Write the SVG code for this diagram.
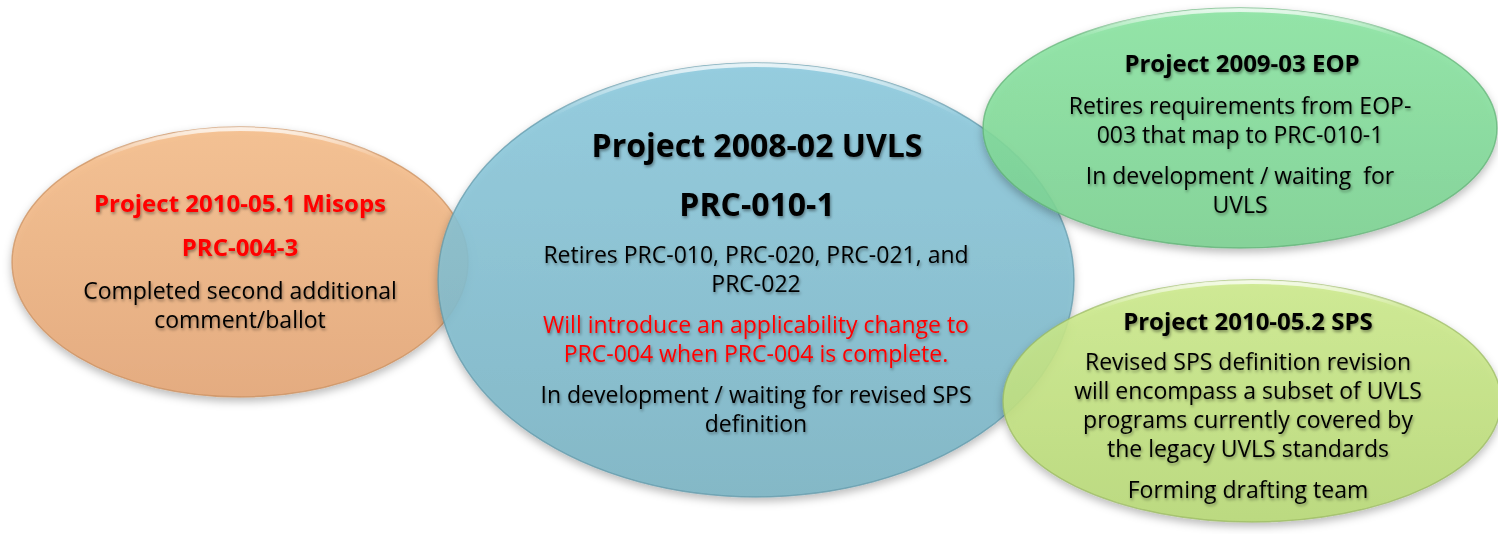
<svg xmlns="http://www.w3.org/2000/svg" width="1498" height="534" viewBox="0 0 1498 534">
<defs>
<linearGradient id="gOrange" x1="0" y1="0" x2="0" y2="1"><stop offset="0" stop-color="#F6BE8A"/><stop offset="1" stop-color="#E5A676"/></linearGradient>
<linearGradient id="gBlue" x1="0" y1="0" x2="0" y2="1"><stop offset="0" stop-color="#8CCADE"/><stop offset="1" stop-color="#7AB4C4"/></linearGradient>
<linearGradient id="gGreen" x1="0" y1="0" x2="0" y2="1"><stop offset="0" stop-color="#8AE5A2"/><stop offset="1" stop-color="#7CD292"/></linearGradient>
<linearGradient id="gYellow" x1="0" y1="0" x2="0" y2="1"><stop offset="0" stop-color="#CDEB8C"/><stop offset="1" stop-color="#B8D976"/></linearGradient>
<linearGradient id="gRim" x1="0" y1="0" x2="0" y2="1"><stop offset="0" stop-color="#FFFFFF" stop-opacity="0.75"/><stop offset="0.12" stop-color="#FFFFFF" stop-opacity="0"/></linearGradient>
<filter id="shadow" x="-10%" y="-10%" width="120%" height="125%"><feDropShadow dx="0" dy="4" stdDeviation="4" flood-color="#000" flood-opacity="0.3"/></filter>
<filter id="tshadow" x="-5%" y="-20%" width="110%" height="150%"><feDropShadow dx="1" dy="2" stdDeviation="1.6" flood-color="#000" flood-opacity="0.4"/></filter>
</defs>
<style>
.ell{fill-opacity:0.88;stroke-width:1.5;stroke-opacity:0.7}
.rim{fill:none;stroke:url(#gRim);stroke-width:4}
text{font-family:"Open Sans","Liberation Sans",sans-serif;text-anchor:middle;fill:#000;filter:url(#tshadow)}
.t{font-weight:bold;font-size:24px}
.big{font-weight:bold;font-size:32px}
.b{font-size:23px}
.red{fill:#FF0000}
.pre{white-space:pre}
</style>
<g id="node-misops" filter="url(#shadow)">
<ellipse class="ell" cx="240" cy="262" rx="228" ry="135" fill="url(#gOrange)" stroke="#C98E5E"/>
<ellipse class="rim" cx="240" cy="262" rx="226" ry="133"/>
</g>
<g id="node-uvls" filter="url(#shadow)">
<ellipse class="ell" cx="756" cy="280" rx="318" ry="217" fill="url(#gBlue)" stroke="#5F97A8"/>
<ellipse class="rim" cx="756" cy="280" rx="316" ry="215"/>
</g>
<g id="node-eop" filter="url(#shadow)">
<ellipse class="ell" cx="1240" cy="128" rx="257" ry="120" fill="url(#gGreen)" stroke="#5EAF74"/>
<ellipse class="rim" cx="1240" cy="128" rx="255" ry="118"/>
</g>
<g id="node-sps" filter="url(#shadow)">
<ellipse class="ell" cx="1252" cy="401" rx="249" ry="121" fill="url(#gYellow)" stroke="#98B860"/>
<ellipse class="rim" cx="1252" cy="401" rx="247" ry="119"/>
</g>
<g id="labels-misops">
<text class="t red" x="240" y="212">Project 2010-05.1 Misops</text>
<text class="t red" x="240" y="256">PRC-004-3</text>
<text class="b" x="240" y="299">Completed second additional</text>
<text class="b" x="240" y="328">comment/ballot</text>
</g>
<g id="labels-uvls">
<text class="big" x="757" y="157">Project 2008-02 UVLS</text>
<text class="big" x="757" y="216">PRC-010-1</text>
<text class="b" x="756" y="263">Retires PRC-010, PRC-020, PRC-021, and</text>
<text class="b" x="756" y="292">PRC-022</text>
<text class="b red" x="756" y="333">Will introduce an applicability change to</text>
<text class="b red" x="756" y="362">PRC-004 when PRC-004 is complete.</text>
<text class="b" x="756" y="403">In development / waiting for revised SPS</text>
<text class="b" x="756" y="432">definition</text>
</g>
<g id="labels-eop">
<text class="t" x="1242" y="72">Project 2009-03 EOP</text>
<text class="b" x="1240" y="114">Retires requirements from EOP-</text>
<text class="b" x="1240" y="143">003 that map to PRC-010-1</text>
<text class="b pre" x="1240" y="184">In development / waiting  for</text>
<text class="b" x="1240" y="213">UVLS</text>
</g>
<g id="labels-sps">
<text class="t" x="1248" y="330">Project 2010-05.2 SPS</text>
<text class="b" x="1248" y="370">Revised SPS definition revision</text>
<text class="b" x="1248" y="399">will encompass a subset of UVLS</text>
<text class="b" x="1248" y="428">programs currently covered by</text>
<text class="b" x="1248" y="457">the legacy UVLS standards</text>
<text class="b" x="1248" y="498">Forming drafting team</text>
</g>
<g id="connectors"></g>
</svg>
